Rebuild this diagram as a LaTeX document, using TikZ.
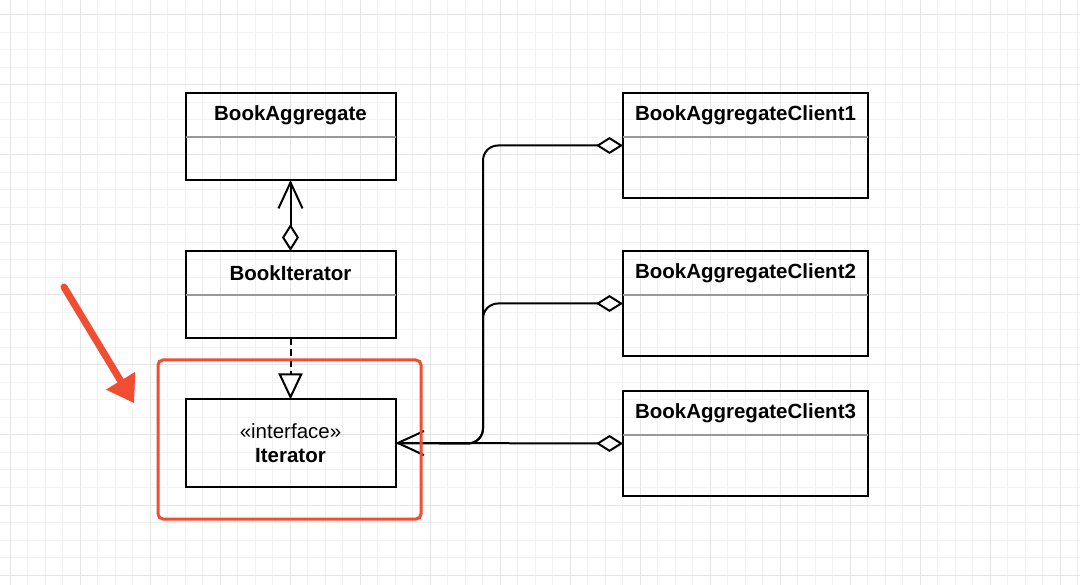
\documentclass[tikz,border=0pt]{standalone}
\usepackage{fontspec}
\setmainfont{Liberation Sans}
\usetikzlibrary{arrows.meta}
\definecolor{redmark}{RGB}{241,77,50}
\begin{document}
\begin{tikzpicture}[
	x=1pt,y=-1pt,
	font=\fontsize{20.5}{25}\selectfont,
	minorline/.style={draw=black!5,line width=1pt},
	majorline/.style={draw=black!10,line width=1pt},
	cls/.style={draw,line width=2pt,minimum width=210pt,minimum height=87pt,outer sep=0pt},
	wcls/.style={cls,minimum width=245pt,minimum height=105pt},
	ttl/.style={minimum width=210pt,minimum height=44pt,outer sep=0pt,font=\fontsize{20.5}{25}\selectfont\bfseries},
	wttl/.style={ttl,minimum width=245pt},
	sep/.style={draw=black!40,line width=1.5pt},
	assoc/.style={line width=2pt,{Diamond[fill=white,length=27pt,width=17pt]}-{Straight Barb[length=26pt,width=24pt]}},
	aggr/.style={line width=2pt,rounded corners=15pt,{Diamond[fill=white,length=27pt,width=17pt]}-},
	realize/.style={line width=2pt,dash pattern=on 7pt off 4pt,-{Triangle[open,fill=white,length=26pt,width=24pt]}},
	hilite/.style={draw=redmark,line width=3pt,rounded corners=5pt,minimum width=263pt,minimum height=159pt},
	pointer/.style={draw=redmark,line width=7pt,line cap=round,-{Triangle[length=26pt,width=34pt,line width=1pt]}},
	]
\useasboundingbox[fill=white] (0,0) rectangle (1080,585);
\foreach \i in {0,...,62}
	\draw[minorline] ({-7.5+17.5*\i},0) -- ({-7.5+17.5*\i},585);
\foreach \j in {0,...,34}
	\draw[minorline] (0,{-2.5+17.5*\j}) -- (1080,{-2.5+17.5*\j});
\foreach \i in {0,...,15}
	\draw[majorline] ({10+70*\i},0) -- ({10+70*\i},585);
\foreach \j in {0,...,8}
	\draw[majorline] (0,{15+70*\j}) -- (1080,{15+70*\j});

\node [cls] (agg) at (290.5,136.5) {};
\node [ttl,anchor=north] (aggT) at (agg.north) {BookAggregate};
\draw [sep] (aggT.south west) -- (aggT.south east);

\node [cls] (bit) at (290.5,294.5) {};
\node [ttl,anchor=north] (bitT) at (bit.north) {BookIterator};
\draw [sep] (bitT.south west) -- (bitT.south east);

\node [cls,align=center,font=\fontsize{20.5}{24}\selectfont] (itf) at (290.5,443) {«interface»\\\textbf{Iterator}};

\node [wcls] (c1) at (745.5,145.5) {};
\node [wttl,anchor=north] (c1T) at (c1.north) {BookAggregateClient1};
\draw [sep] (c1T.south west) -- (c1T.south east);

\node [wcls] (c2) at (745.5,303.5) {};
\node [wttl,anchor=north] (c2T) at (c2.north) {BookAggregateClient2};
\draw [sep] (c2T.south west) -- (c2T.south east);

\node [wcls] (c3) at (745.5,443.5) {};
\node [wttl,anchor=north] (c3T) at (c3.north) {BookAggregateClient3};
\draw [sep] (c3T.south west) -- (c3T.south east);

\coordinate (bend) at (483,443.5);
\draw [assoc] (bit.north) -- (agg.south);
\draw [realize] (bit.south) -- (itf.north);
\draw [aggr] (c1.west) -| (bend) -- (itf.east);
\draw [aggr] (c2.west) -| (bend) -- (itf.east);
\draw [assoc] (c3.west) -- (itf.east);

\node [hilite] (focus) at (289.5,439.5) {};
\coordinate (tail) at (64,287);
\coordinate (tip) at (134,403);
\draw [pointer] (tail) -- (tip);
\end{tikzpicture}
\end{document}
